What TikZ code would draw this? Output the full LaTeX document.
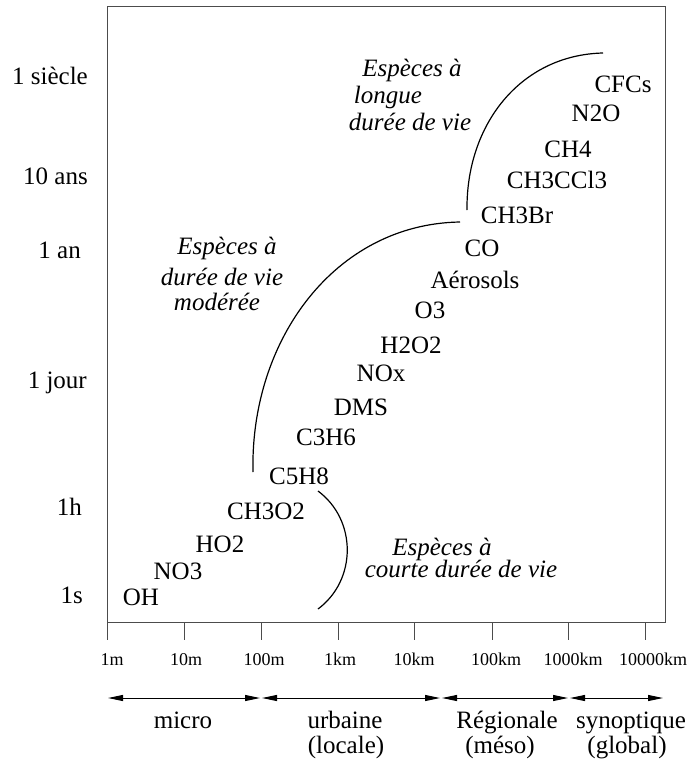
\documentclass[tikz,border=0pt]{standalone}
\usepackage{fontspec}
\setmainfont{Liberation Serif}
\usetikzlibrary{arrows.meta}
\begin{document}
\begin{tikzpicture}[x=1pt, y=-1pt,
		sp/.style = {anchor=base, inner sep=0pt, font=\fontsize{25}{30}\selectfont},
		note/.style = {anchor=base, inner sep=0pt, font=\fontsize{25}{30}\selectfont\itshape},
		ylab/.style = {anchor=base east, inner sep=0pt, font=\fontsize{25}{30}\selectfont},
		xlab/.style = {anchor=base, inner sep=0pt, font=\fontsize{18}{22}\selectfont},
		axis/.style = {draw=black!70, line width=1pt},
		arc/.style = {line width=1.2pt},
		span/.style = {{Triangle[length=15pt,width=6pt]}-{Triangle[length=15pt,width=6pt]}, line width=1pt}]
		\useasboundingbox (0,0) rectangle (691,762);
		% box and ticks
		\draw[axis] (107,7) rectangle (665,622);
		\draw[axis] (107,622) -- (107,640);
		\draw[axis] (184,622) -- (184,640);
		\draw[axis] (261,622) -- (261,640);
		\draw[axis] (338,622) -- (338,640);
		\draw[axis] (414,622) -- (414,640);
		\draw[axis] (492,622) -- (492,640);
		\draw[axis] (568,622) -- (568,640);
		\draw[axis] (645,622) -- (645,640);
		\node[xlab] (l1m) at (112,665) {1m};
		\node[xlab] (l10m) at (186,665) {10m};
		\node[xlab] (l100m) at (264,665) {100m};
		\node[xlab] (l1km) at (340,665) {1km};
		\node[xlab] (l10km) at (414,665) {10km};
		\node[xlab] (l100km) at (496,665) {100km};
		\node[xlab] (l1000km) at (573,665) {1000km};
		\node[xlab] (l10000km) at (653,665) {10000km};
		% time axis
		\node[ylab] (siecle) at (88,85) {1 siècle};
		\node[ylab] (dixans) at (88,185) {10 ans};
		\node[ylab] (an) at (81,258) {1 an};
		\node[ylab] (jour) at (87,388) {1 jour};
		\node[ylab] (heure) at (82,515) {1h};
		\node[ylab] (seconde) at (83,603) {1s};
		% species
		\node[sp] (oh) at (141,605) {OH};
		\node[sp] (no3) at (178,579) {NO3};
		\node[sp] (ho2) at (220,552) {HO2};
		\node[sp] (ch3o2) at (266,519) {CH3O2};
		\node[sp] (c5h8) at (299,484) {C5H8};
		\node[sp] (c3h6) at (326,445) {C3H6};
		\node[sp] (dms) at (361,415) {DMS};
		\node[sp] (nox) at (381,381) {NOx};
		\node[sp] (h2o2) at (411,353) {H2O2};
		\node[sp] (o3) at (430,318) {O3};
		\node[sp] (aerosols) at (475,288) {Aérosols};
		\node[sp] (co) at (482,256) {CO};
		\node[sp] (ch3br) at (517,223) {CH3Br};
		\node[sp] (ch3ccl3) at (557,188) {CH3CCl3};
		\node[sp] (ch4) at (568,158) {CH4};
		\node[sp] (n2o) at (596,122) {N2O};
		\node[sp] (cfcs) at (623,93) {CFCs};
		% lifetime classes
		\node[note] (longa) at (412,77) {Espèces à};
		\node[note] (longb) at (388,104) {longue};
		\node[note] (longc) at (410,131) {durée de vie};
		\node[note] (moda) at (227,254) {Espèces à};
		\node[note] (modb) at (222,285) {durée de vie};
		\node[note] (modc) at (217,310) {modérée};
		\node[note] (courta) at (442,555) {Espèces à};
		\node[note] (courtb) at (461,577) {courte durée de vie};
		\coordinate (a1) at (603,53);
		\coordinate (a2) at (467,210);
		\coordinate (b1) at (460,222);
		\coordinate (b2) at (253,472);
		\coordinate (c1) at (318,491);
		\coordinate (c2) at (318,609);
		\draw[arc] (a1) .. controls (520,55) and (466,125) .. (a2);
		\draw[arc] (b1) .. controls (335,224) and (250,340) .. (b2);
		\draw[arc] (c1) .. controls (357,520) and (357,580) .. (c2);
		% scales
		\coordinate (s0) at (108,698);
		\coordinate (s1) at (260,698);
		\coordinate (s2) at (262,698);
		\coordinate (s3) at (440,698);
		\coordinate (s4) at (442,698);
		\coordinate (s5) at (568,698);
		\coordinate (s6) at (570,698);
		\coordinate (s7) at (663,698);
		\draw[span] (s0) -- (s1);
		\draw[span] (s2) -- (s3);
		\draw[span] (s4) -- (s5);
		\draw[span] (s6) -- (s7);
		\node[sp] (micro) at (183,728) {micro};
		\node[sp] (urbaine) at (345,728) {urbaine};
		\node[sp] (locale) at (346,753) {(locale)};
		\node[sp] (regionale) at (507,728) {Régionale};
		\node[sp] (meso) at (500,753) {(méso)};
		\node[sp] (synoptique) at (631,728) {synoptique};
		\node[sp] (global) at (627,753) {(global)};

	\end{tikzpicture}
\end{document}
